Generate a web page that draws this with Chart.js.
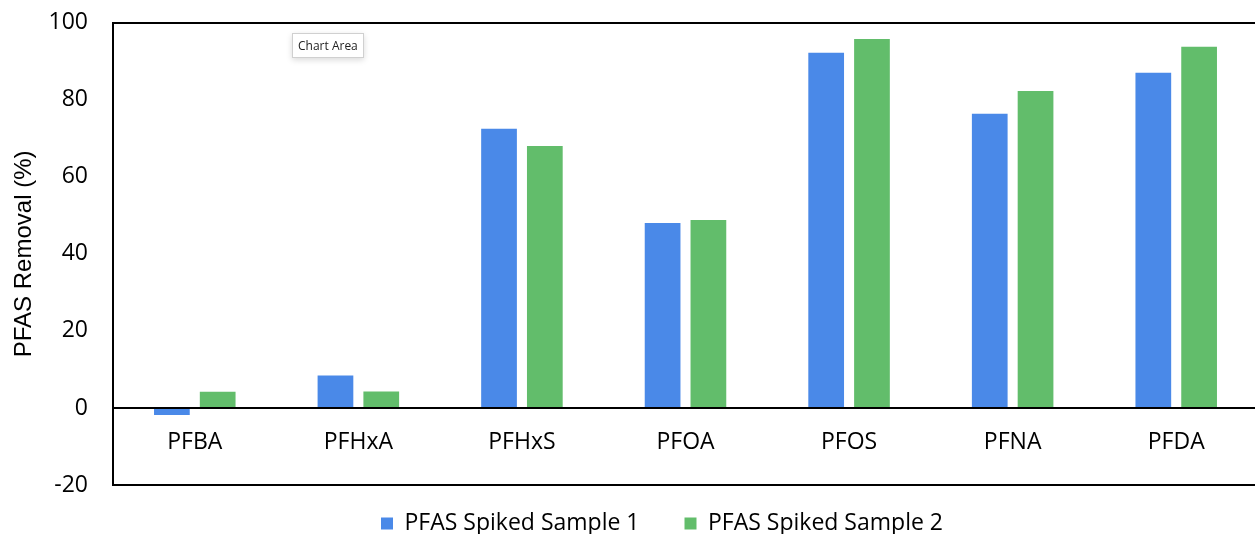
<!DOCTYPE html>
<html>
<head>
<meta charset="utf-8">
<script src="https://cdn.jsdelivr.net/npm/chart.js@4"></script>
<style>
  html, body { margin: 0; padding: 0; background: #fff; overflow: hidden; width: 1255px; height: 534px; }
  #wrap { position: absolute; left: 0; top: -16px; width: 1320px; height: 579px; }
  #tip {
    position: absolute; left: 292px; top: 33px; padding: 3px 5px;
    border: 1px solid #d0d0d0; background: #fff; font: 12px "Open Sans", sans-serif;
    color: #222; box-shadow: 0 2px 6px rgba(0,0,0,0.15);
  }
</style>
</head>
<body>
<div id="wrap">
  <canvas id="chart"></canvas>
</div>
<div id="tip">Chart Area</div>
<script>
var categories = ['PFBA', 'PFHxA', 'PFHxS', 'PFOA', 'PFOS', 'PFNA', 'PFDA'];
var sample1 = [-1.8, 8.4, 72.5, 48.0, 92.2, 76.4, 87.0];
var sample2 = [4.2, 4.3, 68.0, 48.8, 95.8, 82.3, 93.8];
var seriesNames = ['PFAS Spiked Sample 1', 'PFAS Spiked Sample 2'];

var font = '"Open Sans", sans-serif';

// nudge the legend right and up, like the original
var legendShift = {
  id: 'legendShift',
  afterLayout: function (chart) {
    chart.legend.left += 33;
    chart.legend.right += 33;
    chart.legend.top -= 18;
    chart.legend.bottom -= 18;
  }
};

new Chart(document.getElementById('chart'), {
  type: 'bar',
  data: {
    labels: categories,
    datasets: [
      { label: seriesNames[0], data: sample1, backgroundColor: '#4a89e8' },
      { label: seriesNames[1], data: sample2, backgroundColor: '#62bd6b' }
    ]
  },
  plugins: [legendShift],
  options: {
    responsive: true,
    maintainAspectRatio: false,
    animation: false,
    categoryPercentage: 0.56,
    barPercentage: 0.78,
    layout: { padding: { top: 0, right: 62, left: 0, bottom: 0 } },
    plugins: {
      tooltip: { enabled: false },
      legend: {
        position: 'bottom',
        labels: { color: '#000', font: { family: font, size: 23 }, boxWidth: 12, boxHeight: 12, padding: 45 }
      }
    },
    scales: {
      x: {
        position: { y: 0 },
        grid: { display: false },
        border: { display: true, color: '#000', width: 2 },
        ticks: { color: '#000', font: { family: font, size: 23 }, padding: 13 }
      },
      y: {
        min: -20,
        max: 100,
        afterFit: function (scale) { scale.width = 113; },
        ticks: { stepSize: 20, color: '#000', font: { family: font, size: 23 }, padding: 25 },
        grid: {
          drawTicks: false,
          lineWidth: 2,
          color: function (ctx) {
            var v = ctx.tick && ctx.tick.value;
            return (v === 100 || v === -20) ? '#000' : 'rgba(0,0,0,0)';
          }
        },
        border: { display: true, color: '#000', width: 2 },
        title: {
          display: true, text: 'PFAS Removal (%)', color: '#000',
          font: { family: '"Liberation Sans", Arial, sans-serif', size: 24 },
          padding: { top: 10, bottom: 9 }
        }
      }
    }
  }
});
</script>
</body>
</html>
